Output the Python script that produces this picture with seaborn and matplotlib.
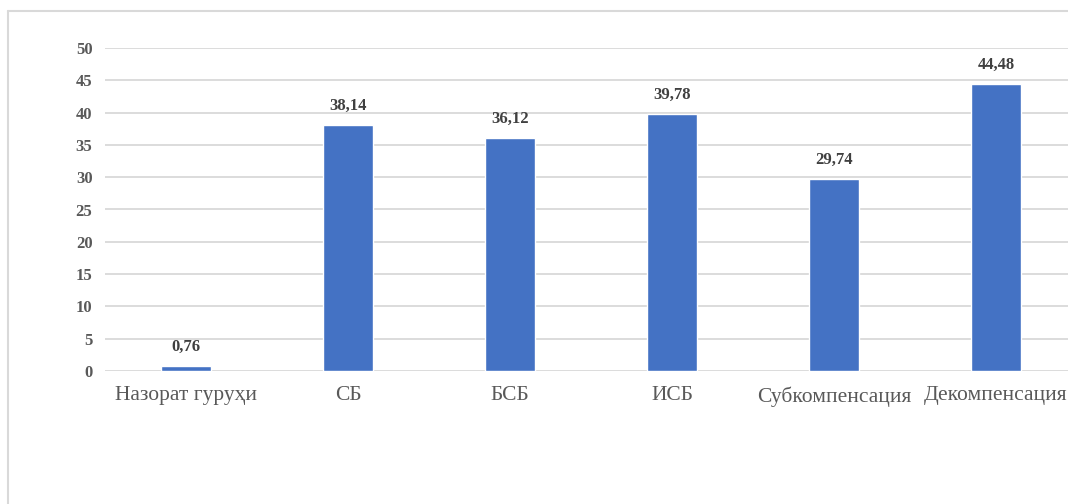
import matplotlib
matplotlib.use("Agg")
import matplotlib.pyplot as plt
import pandas as pd
import seaborn as sns
from matplotlib.lines import Line2D

categories = ["Назорат гуруҳи", "СБ", "БСБ", "ИСБ", "Субкомпенсация", "Декомпенсация"]
values = [0.76, 38.14, 36.12, 39.78, 29.74, 44.48]
y_ticks = [0, 5, 10, 15, 20, 25, 30, 35, 40, 45, 50]

BAR = "#4472C4"
GRID = "#D9D9D9"
TICK = "#595959"
LABEL = "#404040"

sns.set_theme(style="white")
plt.rcParams["font.family"] = ["Liberation Serif", "DejaVu Serif"]

df = pd.DataFrame({"group": categories, "value": values})

fig = plt.figure(figsize=(10.68, 5.04), dpi=100)
ax = fig.add_axes([105 / 1068, 133 / 504, 972 / 1068, 323 / 504])

sns.barplot(data=df, x="group", y="value", color=BAR, width=0.31,
            saturation=1, ax=ax, zorder=3)

ax.set_ylim(0, 50)
ax.set_xlim(-0.5, 5.5)
ax.set_yticks(y_ticks)
ax.yaxis.grid(True, color=GRID, linewidth=1.3, zorder=0)
ax.set_axisbelow(True)
for s in ax.spines.values():
    s.set_visible(False)
ax.set_xlabel("")
ax.set_ylabel("")
ax.tick_params(axis="y", length=0, pad=9, labelsize=12, labelcolor=TICK)
ax.tick_params(axis="x", length=0, pad=11, labelsize=15.5, labelcolor=TICK)
for lbl in ax.get_yticklabels():
    lbl.set_fontweight("bold")

labels = [f"{v:.2f}".replace(".", ",") for v in values]
ax.bar_label(ax.containers[0], labels=labels, padding=8, fontsize=12,
             fontweight="bold", color=LABEL)

# chart frame (only left and top edges are within the picture)
fig.add_artist(Line2D([8 / 1068, 8 / 1068], [0, 1 - 11 / 504],
                      transform=fig.transFigure, color=GRID, linewidth=1.5))
fig.add_artist(Line2D([8 / 1068, 1], [1 - 11 / 504, 1 - 11 / 504],
                      transform=fig.transFigure, color=GRID, linewidth=1.5))

fig.savefig("out.png", dpi=100)
